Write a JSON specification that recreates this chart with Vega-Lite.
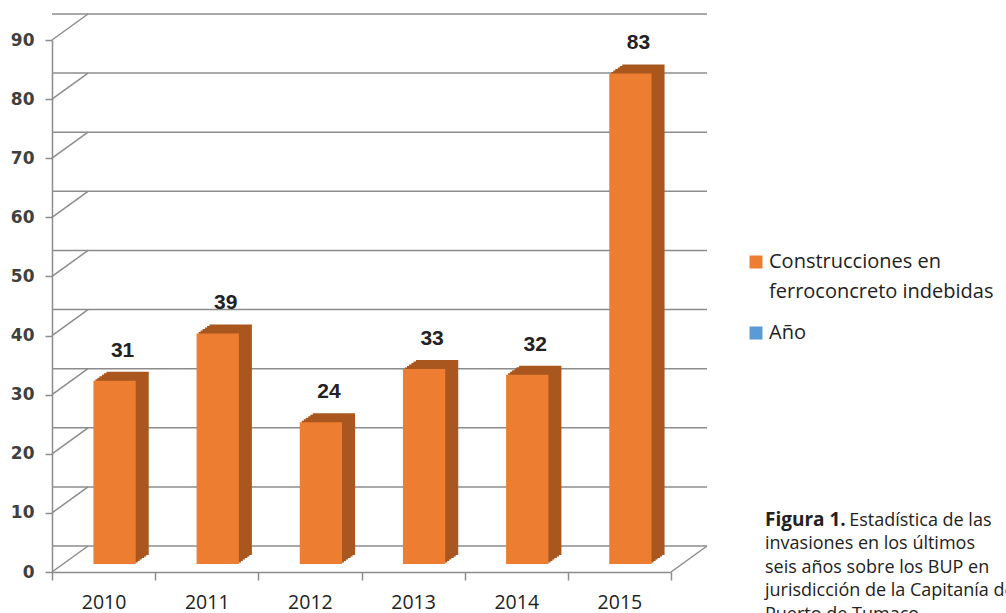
{
  "$schema": "https://vega.github.io/schema/vega-lite/v6.json",
  "width": 619,
  "height": 532,
  "autosize": {"type": "none"},
  "padding": {"left": 52, "top": 40, "right": 335, "bottom": 41},
  "background": "white",
  "config": {"view": {"stroke": null}},
  "datasets": {
    "bars": [
      {"year": "2010", "value": 31, "series": "Construcciones en ferroconcreto indebidas"},
      {"year": "2011", "value": 39, "series": "Construcciones en ferroconcreto indebidas"},
      {"year": "2012", "value": 24, "series": "Construcciones en ferroconcreto indebidas"},
      {"year": "2013", "value": 33, "series": "Construcciones en ferroconcreto indebidas"},
      {"year": "2014", "value": 32, "series": "Construcciones en ferroconcreto indebidas"},
      {"year": "2015", "value": 83, "series": "Construcciones en ferroconcreto indebidas"}
    ],
    "grid": [{"v": 0}, {"v": 10}, {"v": 20}, {"v": 30}, {"v": 40}, {"v": 50}, {"v": 60}, {"v": 70}, {"v": 80}, {"v": 90}]
  },
  "title": {
    "text": "Figura 1.",
    "subtitle": ["\u200d\u00a0\u00a0\u00a0\u00a0\u00a0\u00a0\u00a0\u00a0\u00a0\u00a0\u00a0\u00a0\u00a0\u00a0\u00a0\u00a0\u00a0\u00a0Estadística de las", "invasiones en los últimos", "seis años sobre los BUP en", "jurisdicción de la Capitanía de", "Puerto de Tumaco."],
    "orient": "bottom",
    "anchor": "start",
    "frame": "group",
    "dx": 713,
    "dy": -105,
    "font": "Open Sans",
    "fontSize": 19,
    "fontWeight": "bold",
    "color": "#222222",
    "lineHeight": 23.5,
    "subtitleFont": "Open Sans",
    "subtitleFontSize": 18,
    "subtitleFontWeight": "normal",
    "subtitleColor": "#222222",
    "subtitleLineHeight": 23.5,
    "subtitlePadding": -18
  },
  "encoding": {
    "x": {
      "field": "year",
      "type": "nominal",
      "scale": {"domain": ["2010", "2011", "2012", "2013", "2014", "2015"], "paddingInner": 0, "paddingOuter": 0},
      "axis": {
        "title": null,
        "labelAngle": 0,
        "labelFont": "Open Sans",
        "labelFontSize": 19.5,
        "labelColor": "#222222",
        "labelPadding": 13,
        "tickBand": "extent",
        "tickSize": 8,
        "tickColor": "#8c8c8c",
        "tickWidth": 1.5,
        "domainColor": "#8c8c8c",
        "domainWidth": 1.5,
        "grid": false
      }
    },
    "y": {
      "field": "value",
      "type": "quantitative",
      "scale": {"domain": [0, 90], "nice": false},
      "axis": {
        "title": null,
        "values": [0, 10, 20, 30, 40, 50, 60, 70, 80, 90],
        "labelFont": "DejaVu Sans",
        "labelFontSize": 17,
        "labelFontWeight": "bold",
        "labelColor": "#404040",
        "labelPadding": 11,
        "tickSize": 7,
        "tickColor": "#8c8c8c",
        "tickWidth": 1.5,
        "domainColor": "#8c8c8c",
        "domainWidth": 1.5,
        "grid": false
      }
    }
  },
  "layer": [
    {
      "data": {"name": "grid"},
      "mark": {"type": "rule", "color": "#8c8c8c", "strokeWidth": 1.5, "xOffset": 36, "x2Offset": 36, "yOffset": -26},
      "encoding": {
        "x": null,
        "y": {"field": "v", "type": "quantitative"}
      }
    },
    {
      "data": {"name": "grid"},
      "mark": {"type": "rule", "color": "#8c8c8c", "strokeWidth": 1.5, "x2Offset": 36, "y2Offset": -26},
      "encoding": {
        "x": {"datum": "2010", "type": "nominal", "bandPosition": 0},
        "x2": {"datum": "2010", "bandPosition": 0},
        "y": {"field": "v", "type": "quantitative"},
        "y2": {"field": "v"}
      }
    },
    {
      "data": {"values": [{"v": 0}]},
      "mark": {"type": "rule", "color": "#8c8c8c", "strokeWidth": 1.5, "x2Offset": 36, "y2Offset": -26},
      "encoding": {
        "x": {"datum": "2015", "type": "nominal", "bandPosition": 1},
        "x2": {"datum": "2015", "bandPosition": 1},
        "y": {"field": "v", "type": "quantitative"},
        "y2": {"field": "v"}
      }
    },
    {"data": {"name": "bars"}, "mark": {"type": "bar", "color": "#A9561F", "width": {"band": 0.41}, "xOffset": 13, "yOffset": -9.5, "y2Offset": -9.5}},
    {"data": {"name": "bars"}, "mark": {"type": "bar", "color": "#A9561F", "width": {"band": 0.41}, "xOffset": 15, "yOffset": -11, "y2Offset": -11}},
    {"data": {"name": "bars"}, "mark": {"type": "bar", "color": "#A9561F", "width": {"band": 0.41}, "xOffset": 17, "yOffset": -12.5, "y2Offset": -12.5}},
    {"data": {"name": "bars"}, "mark": {"type": "bar", "color": "#A9561F", "width": {"band": 0.41}, "xOffset": 19.5, "yOffset": -14, "y2Offset": -14}},
    {"data": {"name": "bars"}, "mark": {"type": "bar", "color": "#A9561F", "width": {"band": 0.41}, "xOffset": 21.5, "yOffset": -15.5, "y2Offset": -15.5}},
    {"data": {"name": "bars"}, "mark": {"type": "bar", "color": "#A9561F", "width": {"band": 0.41}, "xOffset": 24, "yOffset": -17, "y2Offset": -17}},
    {
      "data": {"name": "bars"},
      "mark": {"type": "bar", "width": {"band": 0.41}, "xOffset": 11, "yOffset": -8, "y2Offset": -8},
      "encoding": {
        "color": {
          "field": "series",
          "type": "nominal",
          "scale": {"domain": ["Construcciones en ferroconcreto indebidas", "Año"], "range": ["#ED7D31", "#5B9BD5"]},
          "legend": {
            "orient": "none",
            "legendX": 694,
            "legendY": 212,
            "title": null,
            "padding": 0,
            "symbolType": "square",
            "symbolSize": 169,
            "symbolStrokeWidth": 0,
            "labelFont": "Open Sans",
            "labelFontSize": 20,
            "labelColor": "#222222",
            "labelLimit": 400,
            "labelOffset": 3,
            "rowPadding": 21,
            "labelExpr": "datum.value == 'Año' ? 'Año' : ['Construcciones en', 'ferroconcreto indebidas']",
            "encode": {"labels": {"update": {"lineHeight": {"value": 30}}}}
          }
        }
      }
    },
    {
      "data": {"name": "bars"},
      "mark": {"type": "text", "font": "Liberation Sans", "fontSize": 21, "fontWeight": "bold", "color": "#222222", "baseline": "middle", "align": "center", "xOffset": 19, "dy": -38},
      "encoding": {"text": {"field": "value", "type": "quantitative"}}
    }
  ]
}
